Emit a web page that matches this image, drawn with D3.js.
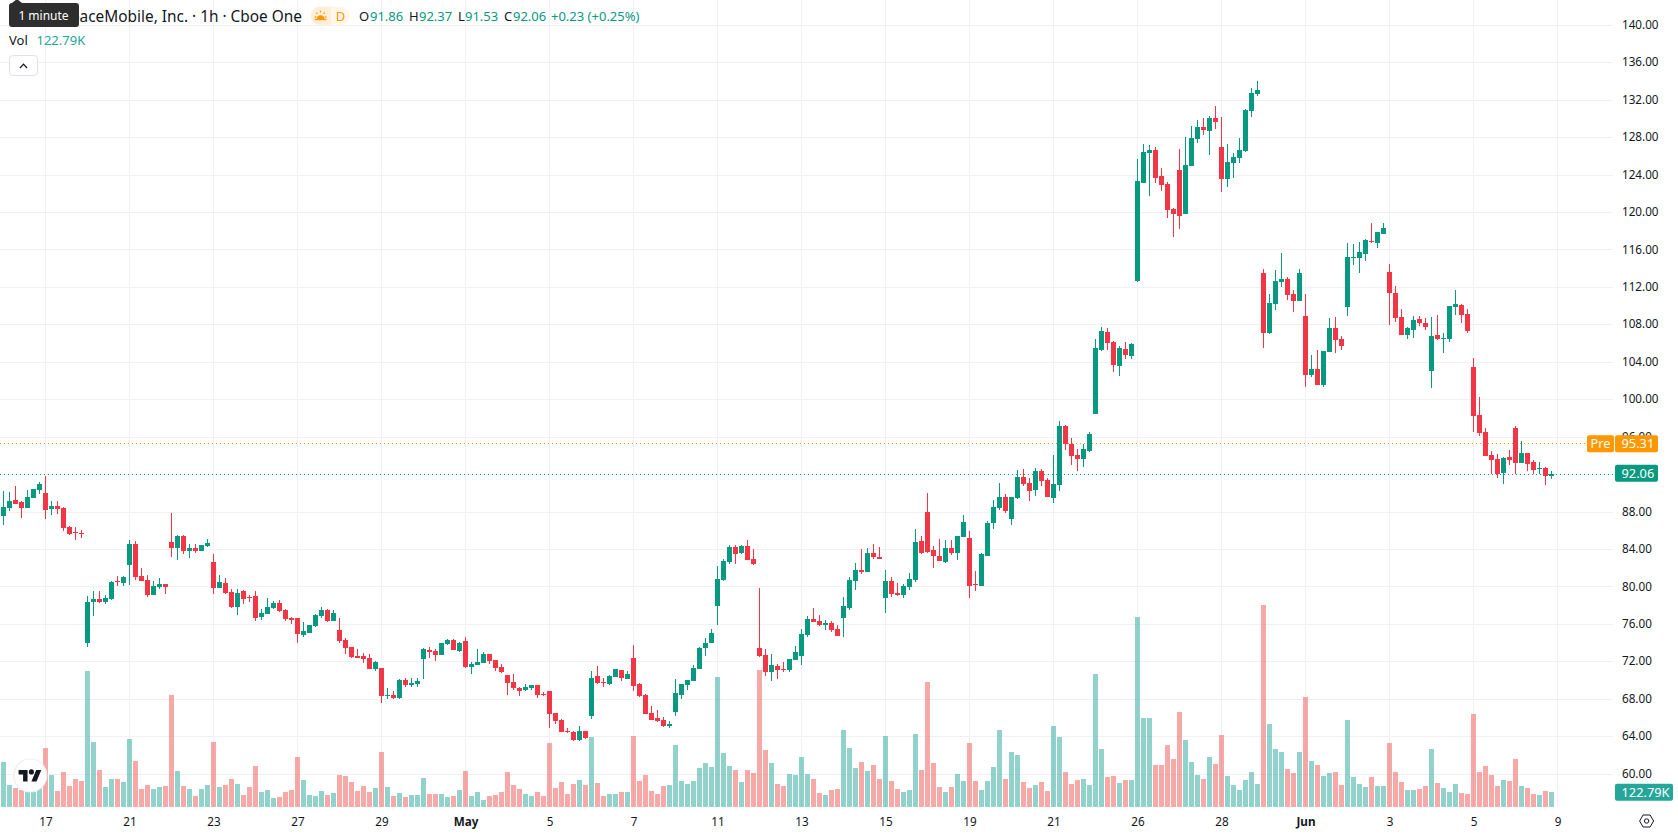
<!DOCTYPE html>
<html>
<head>
<meta charset="utf-8">
<title>Hourly candlestick chart with volume</title>
<script src="https://cdn.jsdelivr.net/npm/d3@7/dist/d3.min.js"></script>
<style>
  html, body { margin: 0; padding: 0; background: #fff; overflow: hidden; }
  svg { display: block; font-family: "Noto Sans", sans-serif; }
  .axis path { display: none; }
  .axis text { fill: #131722; font-size: 11.7px; font-family: "Noto Sans", sans-serif; }
</style>
</head>
<body>
<svg id="chart" width="1678" height="835"></svg>
<script>
// Hourly session values, oldest bar first.
const opens = [
  87.61,88.43,89.29,89.07,88.43,89.50,90.35,90.03,88.33,88.65,
  88.43,86.40,85.87,85.80,74.01,78.39,78.71,78.39,78.71,80.63,
  80.42,82.34,84.59,81.17,80.74,79.14,79.99,80.31,84.80,84.16,
  85.44,83.84,84.16,83.84,84.37,82.66,79.88,80.42,79.46,77.86,
  79.57,78.92,79.03,76.79,77.11,77.75,78.28,77.54,76.68,76.68,
  74.86,75.08,75.83,76.89,77.54,76.36,75.40,74.33,73.58,72.62,
  72.63,72.41,71.24,71.34,68.40,68.45,68.13,70.06,69.52,69.63,
  72.30,73.26,73.16,72.73,73.90,74.33,73.16,74.22,71.45,71.66,
  71.87,72.83,72.19,71.45,70.59,69.84,69.20,68.99,69.20,69.52,
  68.56,68.88,66.53,65.78,64.57,64.50,63.65,64.61,66.21,70.48,
  69.84,69.63,70.38,71.13,70.16,72.41,69.63,68.45,66.53,66.00,
  65.78,65.14,66.64,68.45,69.52,69.95,71.23,73.48,74.01,77.96,
  80.74,82.66,84.27,83.62,84.37,82.98,73.48,72.73,70.91,71.55,
  71.23,71.13,72.19,72.60,74.86,76.57,76.36,75.93,76.15,75.51,
  76.68,77.75,80.63,81.81,81.60,83.62,83.20,78.82,80.63,79.35,
  79.14,79.99,80.74,84.91,88.01,83.95,83.30,82.66,84.16,83.62,
  85.33,85.23,80.31,80.10,83.30,86.83,88.43,89.61,87.26,89.50,
  91.74,91.10,90.36,92.38,91.42,89.50,90.89,97.19,95.27,94.09,
  93.67,94.52,98.47,105.31,107.23,106.17,103.60,105.42,104.67,112.69,
  123.16,126.36,126.68,123.91,123.05,120.38,124.55,119.85,124.97,127.86,
  129.14,128.71,130.10,127.00,123.59,125.30,125.83,126.58,130.85,132.67,
  113.54,107.13,110.23,112.58,112.90,111.30,110.55,108.95,102.64,103.28,
  101.57,105.10,107.66,106.49,109.91,115.14,115.14,115.57,116.96,116.74,
  117.71,113.65,111.40,108.84,106.92,107.45,108.63,108.20,103.07,106.92,
  106.49,106.49,109.91,110.12,109.16,103.50,98.37,96.55,94.10,93.67,
  92.17,93.88,96.98,93.24,94.31,93.35,92.60,92.71,91.86
];
const highs = [
  90.25,90.14,90.78,89.18,90.35,90.46,91.21,91.85,89.18,89.18,
  88.54,86.51,86.40,86.08,79.03,79.57,79.57,79.14,80.63,81.17,
  81.17,85.01,84.91,82.02,81.27,80.63,80.95,80.31,87.90,85.55,
  85.55,84.59,84.59,84.48,85.12,83.52,81.27,80.95,79.78,79.78,
  79.67,79.14,79.57,77.64,78.82,78.50,78.60,77.64,76.79,76.68,
  76.25,75.93,77.11,77.86,77.64,77.54,76.68,74.54,73.58,73.37,
  72.95,72.84,72.09,71.34,69.20,68.90,70.17,70.27,70.27,70.27,
  73.48,73.58,73.37,74.01,74.44,74.44,74.12,74.65,71.98,73.37,
  73.05,72.83,72.19,71.77,70.59,70.70,69.31,69.63,69.52,69.52,
  68.77,68.88,66.53,65.89,64.93,64.61,65.14,64.61,71.02,71.55,
  70.27,70.59,71.23,71.13,71.02,73.80,69.74,68.56,67.28,66.85,
  66.10,65.68,70.16,69.63,70.06,71.66,73.58,74.54,75.51,82.24,
  82.98,84.48,84.48,84.48,85.01,84.05,79.89,73.37,72.83,71.77,
  71.98,72.30,73.69,75.50,76.89,77.75,77.00,76.47,76.36,75.93,
  78.92,81.06,82.56,84.05,84.16,84.59,84.27,81.81,81.06,80.42,
  80.31,81.49,86.19,85.44,90.03,84.37,85.12,85.01,85.01,85.44,
  87.68,85.98,81.70,83.62,87.04,89.29,91.10,89.93,89.61,92.49,
  92.60,91.64,92.71,92.60,91.64,94.09,97.73,97.30,95.91,94.74,
  95.27,96.55,106.49,107.77,107.66,106.27,105.74,106.17,106.06,125.72,
  127.32,127.22,127.00,124.76,123.27,120.49,126.79,128.07,129.25,129.89,
  130.10,130.32,131.38,130.21,127.32,126.36,127.97,131.06,133.31,134.05,
  113.97,111.30,113.86,115.68,113.11,111.72,113.97,111.30,104.78,105.31,
  105.21,108.73,108.84,106.81,116.74,116.64,116.85,117.17,118.88,117.92,
  118.88,114.50,112.15,109.69,107.77,108.95,108.95,108.73,108.84,109.05,
  107.13,110.01,111.72,110.23,109.69,104.46,100.29,96.98,94.52,94.20,
  93.88,94.63,97.19,95.59,94.31,93.56,93.35,92.81,92.37
];
const lows = [
  86.62,88.11,88.86,87.36,88.43,89.50,89.93,87.26,87.68,87.79,
  85.97,85.55,85.01,85.23,73.58,76.89,78.28,78.18,78.60,80.10,
  80.10,80.21,80.74,80.63,78.92,79.14,79.78,79.24,83.20,82.88,
  83.52,83.09,83.62,83.84,84.27,79.24,79.88,79.24,77.75,77.00,
  78.18,78.39,76.36,76.47,77.11,77.64,77.32,76.36,76.04,74.01,
  74.65,75.08,75.72,76.68,76.25,76.36,74.01,72.83,72.41,72.41,
  71.88,71.24,71.02,67.60,68.00,68.00,68.03,69.31,69.31,69.31,
  70.16,72.41,72.09,72.73,73.80,73.26,73.05,71.34,70.70,71.66,
  71.87,71.77,71.02,70.80,68.45,68.99,68.35,68.88,68.99,68.13,
  68.35,64.93,65.36,64.50,64.39,63.54,63.54,63.75,65.89,69.63,
  69.31,69.52,70.38,69.95,70.16,68.88,68.24,66.42,65.78,65.57,
  65.04,64.93,66.21,68.03,68.99,69.95,71.23,72.62,74.01,75.93,
  80.63,82.45,82.45,83.52,82.88,82.34,72.51,70.48,69.95,70.16,
  70.91,70.91,72.19,71.70,74.65,76.25,75.83,75.40,75.19,74.76,
  74.65,77.54,79.67,81.38,81.60,82.98,82.98,77.22,78.92,79.03,
  78.82,79.67,80.53,83.52,83.62,82.02,82.77,82.56,83.41,82.88,
  85.33,78.82,79.57,80.10,83.30,86.19,88.22,87.90,86.62,89.39,
  90.78,89.18,89.71,90.78,89.61,88.97,90.25,94.63,93.03,92.38,
  92.81,94.41,98.47,105.20,105.31,102.96,102.53,104.35,104.35,112.58,
  123.16,121.77,123.16,122.30,119.42,117.39,118.24,119.85,124.97,127.43,
  128.29,126.15,128.93,122.20,122.73,123.69,125.30,126.47,130.21,132.45,
  105.53,107.02,109.59,112.04,110.66,109.37,110.55,101.36,102.43,101.57,
  101.36,105.10,104.99,105.31,108.95,114.39,113.54,114.82,116.74,116.21,
  117.71,107.98,108.31,106.92,106.49,106.59,107.88,107.45,101.25,106.38,
  104.99,106.17,109.05,108.20,107.13,96.55,96.13,93.99,92.07,91.64,
  90.98,93.03,92.07,93.24,92.39,92.07,92.07,90.89,91.53
];
const closes = [
  88.54,89.18,88.86,88.43,89.61,90.46,91.00,88.22,88.65,88.33,
  86.30,85.65,85.76,85.69,78.39,78.71,78.39,78.82,80.53,80.53,
  81.06,84.59,81.06,80.63,79.14,80.10,80.31,79.99,84.16,85.44,
  83.84,84.16,83.84,84.48,84.69,79.88,80.53,79.35,77.86,79.35,
  78.71,78.82,76.68,77.22,77.86,78.28,77.43,76.57,76.47,74.97,
  75.29,75.93,77.00,77.54,76.36,77.22,74.22,73.48,72.52,72.41,
  72.31,71.24,71.98,68.35,68.50,68.13,70.06,69.52,69.74,69.95,
  73.37,73.05,72.73,74.01,74.33,73.26,74.01,71.45,71.77,71.98,
  72.83,72.09,71.34,70.91,69.74,69.20,68.88,69.31,69.52,68.45,
  68.45,66.42,65.68,64.50,64.47,63.65,64.61,63.86,70.27,69.74,
  69.74,70.48,71.23,70.27,70.70,69.42,68.35,66.42,65.78,65.68,
  65.14,65.36,68.67,69.63,70.06,71.34,73.48,74.01,75.08,80.85,
  82.77,84.27,83.52,84.37,82.88,82.45,72.62,70.91,71.66,71.13,
  71.13,72.30,73.05,74.97,76.57,76.25,75.93,76.15,75.40,74.76,
  77.96,80.74,81.81,81.60,83.62,83.20,82.98,80.63,79.24,79.14,
  80.10,80.85,84.80,83.62,83.73,83.30,82.77,84.16,83.62,85.44,
  86.94,80.10,80.21,83.52,86.83,88.54,89.61,88.11,89.61,91.74,
  91.00,90.25,92.38,91.32,89.61,91.00,97.19,95.27,93.99,93.67,
  94.74,96.34,105.52,107.34,106.06,103.71,105.52,104.78,105.95,123.37,
  126.47,126.68,123.69,122.94,120.27,119.85,119.63,125.08,127.97,129.14,
  128.82,130.10,129.67,123.59,125.40,125.94,126.68,130.96,132.77,133.09,
  107.13,110.33,112.68,112.90,111.19,110.55,113.54,102.64,103.28,101.57,
  105.21,107.66,106.38,105.74,115.25,115.25,115.78,117.07,116.85,117.92,
  118.35,111.40,108.73,106.92,107.66,108.52,108.20,107.77,106.81,106.49,
  106.59,110.01,110.23,109.05,107.34,98.26,96.45,93.99,93.56,92.07,
  93.78,93.56,93.24,94.31,93.13,92.49,92.71,91.85,92.06
];
// Volume per bar, in thousands of shares.
const volumes = [
  375.7,183.7,158.6,141.9,125.2,125.2,183.7,492.6,267.2,133.6,
  292.2,175.3,233.8,217.1,1135.5,542.7,308.9,167.0,233.8,233.8,
  208.7,567.7,384.1,150.3,183.7,150.3,167.0,175.3,935.1,300.6,
  175.3,150.3,91.8,150.3,183.7,542.7,167.0,183.7,233.8,192.0,
  100.2,167.0,342.3,125.2,141.9,75.1,83.5,125.2,141.9,417.5,
  225.4,100.2,91.8,133.6,100.2,116.9,267.2,258.8,208.7,133.6,
  175.3,125.2,158.6,459.2,167.0,91.8,116.9,83.5,100.2,100.2,
  242.1,108.5,108.5,108.5,83.5,91.8,141.9,300.6,91.8,125.2,
  58.4,91.8,100.2,125.2,292.2,183.7,150.3,108.5,91.8,125.2,
  91.8,534.3,158.6,208.7,108.5,192.0,225.4,183.7,584.4,200.4,
  91.8,108.5,108.5,125.2,125.2,592.8,217.1,267.2,133.6,108.5,
  175.3,183.7,517.6,217.1,192.0,217.1,325.6,367.4,334.0,1085.4,
  450.8,342.3,308.9,208.7,308.9,283.9,1143.8,475.9,367.4,192.0,
  175.3,275.5,267.2,417.5,275.5,233.8,116.9,100.2,141.9,150.3,
  642.9,492.6,325.6,375.7,300.6,350.7,233.8,592.8,217.1,150.3,
  125.2,141.9,609.5,308.9,1043.6,367.4,167.0,125.2,167.0,275.5,
  217.1,534.3,217.1,141.9,217.1,334.0,642.9,233.8,459.2,434.1,
  208.7,158.6,183.7,208.7,133.6,676.3,584.4,292.2,192.0,225.4,
  233.8,183.7,1110.4,484.2,250.5,258.8,197.6,222.6,222.6,1583.5,
  740.3,740.3,347.9,347.9,514.9,398.0,790.4,556.6,372.9,264.4,
  231.0,414.7,356.2,598.3,256.0,180.9,139.2,222.6,289.4,189.2,
  1683.7,690.2,481.5,456.4,314.5,281.1,456.4,915.6,381.3,347.9,
  256.0,281.1,289.4,180.9,723.6,247.7,189.2,164.2,247.7,172.5,
  172.5,531.6,289.4,205.9,139.2,139.2,147.5,172.5,481.5,197.6,
  155.8,122.5,189.2,114.1,105.8,773.7,289.4,339.5,264.4,172.5,
  222.6,214.3,398.0,172.5,155.8,105.8,97.4,130.8,122.79
];
// Bar numbers that carry a date label, and those labels.
const dateTickBars = [7,21,35,49,63,77,91,105,119,133,147,161,175,189,203,217,231,245,259];
const dateTickLabels = ["17","21","23","27","29","May","5","7","11","13","15","19","21","26","28","Jun","3","5","9"];
const boldDateLabels = ["May","Jun"];
const priceTicks = [60,64,68,72,76,80,84,88,92,96,100,104,108,112,116,120,124,128,132,136,140];

const lastPrice = 92.06;
const prePrice = 95.31;
const lastVolumeLabel = "122.79K";

const UP = "#089981", DOWN = "#f23645";
const UP_VOL = "rgba(38,166,154,0.5)", DOWN_VOL = "rgba(239,83,80,0.5)";
const GRID = "#f0f1f4", INK = "#131722";
const plotRight = 1613, volumeBase = 807;

const bars = opens.map((o, i) => ({ i, o, h: highs[i], l: lows[i], c: closes[i], v: volumes[i], up: closes[i] >= o }));

const svg = d3.select("#chart");

const x = d3.scaleLinear().domain([0, 259]).range([3.5, 1557.5]);
const y = d3.scaleLinear().domain([60, 140]).range([774.1, 25.3]);
const yVol = d3.scaleLinear().domain([0, 1683.7]).range([volumeBase, volumeBase - 201.7]);

// Grid
const grid = svg.append("g").attr("shape-rendering", "crispEdges").attr("stroke", GRID);
grid.selectAll("line.h").data(priceTicks).join("line").attr("class", "h")
  .attr("x1", 0).attr("x2", plotRight)
  .attr("y1", d => Math.floor(y(d)) + 0.5).attr("y2", d => Math.floor(y(d)) + 0.5);
grid.selectAll("line.v").data(dateTickBars).join("line").attr("class", "v")
  .attr("x1", d => x(d)).attr("x2", d => x(d))
  .attr("y1", 0).attr("y2", volumeBase);

// Volume columns sit underneath the candles
svg.append("g").attr("shape-rendering", "crispEdges")
  .selectAll("rect").data(bars).join("rect")
  .attr("x", d => x(d.i) - 2.5).attr("width", 5)
  .attr("y", d => Math.round(yVol(d.v)))
  .attr("height", d => volumeBase - Math.round(yVol(d.v)))
  .attr("fill", d => d.up ? UP_VOL : DOWN_VOL);

// Last and pre-market price lines
svg.append("line").attr("x1", 0).attr("x2", plotRight)
  .attr("y1", Math.floor(y(prePrice)) + 0.5).attr("y2", Math.floor(y(prePrice)) + 0.5)
  .attr("stroke", "#ff9800").attr("stroke-dasharray", "1 3");
svg.append("line").attr("x1", 0).attr("x2", plotRight)
  .attr("y1", Math.floor(y(lastPrice)) + 0.5).attr("y2", Math.floor(y(lastPrice)) + 0.5)
  .attr("stroke", UP).attr("stroke-dasharray", "1 3");

// Candles
const candle = svg.append("g").attr("shape-rendering", "crispEdges")
  .selectAll("g").data(bars).join("g")
  .attr("fill", d => d.up ? UP : DOWN);
candle.append("rect")
  .attr("x", d => x(d.i) - 0.5).attr("width", 1)
  .attr("y", d => Math.round(y(d.h)))
  .attr("height", d => Math.max(1, Math.round(y(d.l)) - Math.round(y(d.h))));
candle.append("rect")
  .attr("x", d => x(d.i) - 2.5).attr("width", 5)
  .attr("y", d => Math.round(y(Math.max(d.o, d.c))))
  .attr("height", d => Math.max(1, Math.round(y(Math.min(d.o, d.c))) - Math.round(y(Math.max(d.o, d.c)))));

// Axes
const priceAxis = svg.append("g").attr("class", "axis")
  .attr("transform", `translate(${plotRight},0)`)
  .call(d3.axisRight(y).tickValues(priceTicks).tickFormat(d3.format(".2f")).tickSize(0).tickPadding(9));
priceAxis.selectAll("text").attr("dy", "0.27em");

const dateAxis = svg.append("g").attr("class", "axis")
  .attr("transform", `translate(0,${volumeBase})`)
  .call(d3.axisBottom(x).tickValues(dateTickBars)
    .tickFormat((d, i) => dateTickLabels[i]).tickSize(0).tickPadding(10.5));
dateAxis.selectAll("text")
  .attr("font-weight", (d, i) => boldDateLabels.includes(dateTickLabels[i]) ? 700 : 400);

// Price and volume tags on the scale
function tag(x0, width, cy, fill, label, textX, anchor) {
  svg.append("rect").attr("x", x0).attr("y", cy - 8.5).attr("width", width).attr("height", 17)
    .attr("rx", 2).attr("fill", fill);
  svg.append("text").attr("x", textX).attr("y", cy + 4.5).attr("text-anchor", anchor || "start")
    .attr("fill", "#fff").attr("font-size", 12.8).text(label);
}
tag(1587, 27, y(prePrice) + 0.2, "#ff9800", "Pre", 1600.5, "middle");
tag(1615, 43, y(prePrice) + 0.2, "#ff9800", d3.format(".2f")(prePrice), 1621.5);
tag(1615, 43, y(lastPrice) - 0.8, UP, d3.format(".2f")(lastPrice), 1621.5);
tag(1615, 58, yVol(volumes[volumes.length - 1]), "#26a69a", lastVolumeLabel, 1621.5);

// Legend rows
const legend = svg.append("g").attr("font-size", 13);
legend.append("text").attr("x", 302).attr("y", 21.5).attr("text-anchor", "end")
  .attr("font-size", 15.4).attr("fill", INK).text("AST SpaceMobile, Inc. · 1h · Cboe One");

legend.append("path").attr("d", "M320 6.5H331V25H320A9.25 9.25 0 0 1 320 6.5Z").attr("fill", "#ffefd9");
legend.append("path").attr("d", "M331 6.5H341A9.25 9.25 0 0 1 341 25H331Z").attr("fill", "#fff7ec");
const sun = legend.append("g").attr("transform", "translate(320.5,16)").attr("stroke", "#ff9800").attr("stroke-width", 1.3).attr("fill", "none");
sun.append("path").attr("d", "M-3.2 3A3.2 3.2 0 0 1 3.2 3Z").attr("fill", "#ff9800");
[[-6, 1, -4.2, 1], [6, 1, 4.2, 1], [-4.4, -3.4, -3.2, -2.2], [4.4, -3.4, 3.2, -2.2], [0, -5.4, 0, -3.7], [-6, 3.5, 6, 3.5]]
  .forEach(s => sun.append("line").attr("x1", s[0]).attr("y1", s[1]).attr("x2", s[2]).attr("y2", s[3]));
legend.append("text").attr("x", 340.5).attr("y", 20.6).attr("text-anchor", "middle")
  .attr("fill", "#ff9800").attr("font-size", 13).text("D");

const ohlcLabels = [
  ["O", 359, "91.86", 370], ["H", 409, "92.37", 419],
  ["L", 458, "91.53", 465], ["C", 504, "92.06", 513]
];
ohlcLabels.forEach(r => {
  legend.append("text").attr("x", r[1]).attr("y", 20.5).attr("fill", INK).text(r[0]);
  legend.append("text").attr("x", r[3]).attr("y", 20.5).attr("fill", UP).text(r[2]);
});
legend.append("text").attr("x", 551).attr("y", 20.5).attr("fill", UP).text("+0.23 (+0.25%)");

legend.append("text").attr("x", 9).attr("y", 45).attr("fill", INK).text("Vol");
legend.append("text").attr("x", 36.5).attr("y", 45).attr("fill", "#26a69a").text(lastVolumeLabel);

// Collapse button
svg.append("rect").attr("x", 9.5).attr("y", 55.5).attr("width", 28).attr("height", 20).attr("rx", 3.5)
  .attr("fill", "#fff").attr("stroke", "#dfe2e8");
svg.append("path").attr("d", "M20 68L23.5 64.2L27 68").attr("fill", "none").attr("stroke", INK).attr("stroke-width", 1.2);

// Hover tooltip over the symbol name
svg.append("path").attr("d", "M12 3L17 -1L22 3Z").attr("fill", "#2e2e2e");
svg.append("rect").attr("x", 9).attr("y", 3).attr("width", 70).attr("height", 24).attr("rx", 3).attr("fill", "#2e2e2e");
svg.append("text").attr("x", 43.5).attr("y", 19.5).attr("text-anchor", "middle").attr("fill", "#fff")
  .attr("font-size", 12).text("1 minute");

// Logo badge
svg.append("circle").attr("cx", 30.3).attr("cy", 775.5).attr("r", 16.5).attr("fill", "#fff").attr("stroke", "#eceef1").attr("stroke-width", 1.2);
const logo = svg.append("g").attr("transform", "translate(18.6,767.4) scale(0.64)").attr("fill", "#131722");
logo.append("path").attr("d", "M14 22H7V11H0V4h14v18ZM28 22h-8l7.5-18h8L28 22Z");
logo.append("circle").attr("cx", 20).attr("cy", 7).attr("r", 4);

// Scale settings icon
svg.append("path").attr("d", "M1639.6 821L1643.1 815H1650.1L1653.6 821L1650.1 827H1643.1Z")
  .attr("fill", "none").attr("stroke", INK).attr("stroke-width", 1);
svg.append("circle").attr("cx", 1646.6).attr("cy", 821).attr("r", 2.2).attr("fill", "none").attr("stroke", INK);
</script>
</body>
</html>
